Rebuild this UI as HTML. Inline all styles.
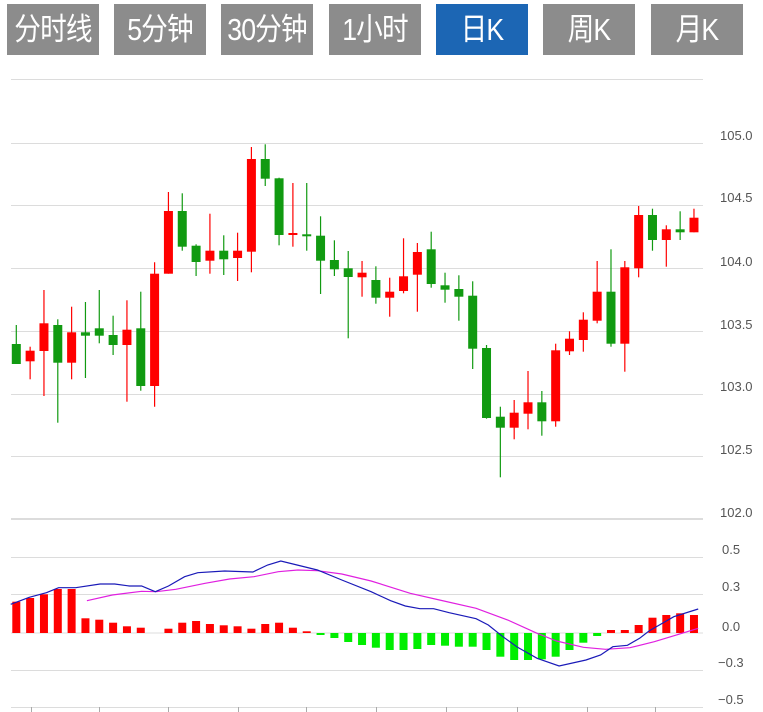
<!DOCTYPE html>
<html><head><meta charset="utf-8"><style>
html,body{margin:0;padding:0;background:#fff;width:763px;height:712px;overflow:hidden;font-family:"Liberation Sans","Noto Sans CJK SC",sans-serif}
.b{position:absolute;top:4px;width:92px;height:51px;background:#8c8c8c;color:#fff;overflow:hidden}
.b span{position:absolute;left:50%;top:0;line-height:51px;font-size:31px;white-space:nowrap;letter-spacing:-1px;transform:translateX(-50%) scaleX(0.86);font-family:"Liberation Sans","Noto Sans CJK SC",sans-serif}
.a{background:#1c66b4}
</style></head><body>
<div class="b" style="left:7px"><span>分时线</span></div>
<div class="b" style="left:114px"><span>5分钟</span></div>
<div class="b" style="left:221px"><span>30分钟</span></div>
<div class="b" style="left:329px"><span>1小时</span></div>
<div class="b a" style="left:436px"><span>日K</span></div>
<div class="b" style="left:543px"><span>周K</span></div>
<div class="b" style="left:651px"><span>月K</span></div>
<svg id="s" width="763" height="712" style="position:absolute;left:0;top:0" xmlns="http://www.w3.org/2000/svg">
<g stroke="#dcdcdc" stroke-width="1">
<line x1="11" x2="703" y1="79.5" y2="79.5"/>
<line x1="11" x2="703" y1="143.5" y2="143.5"/>
<line x1="11" x2="703" y1="205.5" y2="205.5"/>
<line x1="11" x2="703" y1="268.5" y2="268.5"/>
<line x1="11" x2="703" y1="331.5" y2="331.5"/>
<line x1="11" x2="703" y1="394.5" y2="394.5"/>
<line x1="11" x2="703" y1="456.5" y2="456.5"/>
<line x1="11" x2="703" y1="519" y2="519" stroke-width="2"/>
<line x1="11" x2="703" y1="557.5" y2="557.5"/>
<line x1="11" x2="703" y1="594.5" y2="594.5"/>
<line x1="11" x2="703" y1="633" y2="633"/>
<line x1="11" x2="703" y1="670.5" y2="670.5"/>
<line x1="11" x2="703" y1="707.5" y2="707.5"/>
</g>
<g stroke="#aaa" stroke-width="1">
<line x1="31.5" x2="31.5" y1="707" y2="712"/><line x1="99.5" x2="99.5" y1="707" y2="712"/><line x1="168.5" x2="168.5" y1="707" y2="712"/><line x1="238.5" x2="238.5" y1="707" y2="712"/><line x1="306.5" x2="306.5" y1="707" y2="712"/><line x1="376.5" x2="376.5" y1="707" y2="712"/><line x1="446.5" x2="446.5" y1="707" y2="712"/><line x1="517.5" x2="517.5" y1="707" y2="712"/><line x1="587.5" x2="587.5" y1="707" y2="712"/><line x1="655.5" x2="655.5" y1="707" y2="712"/>
</g>
<g font-size="13" fill="#555" font-family="Liberation Sans, sans-serif">
<text x="720" y="140">105.0</text><text x="720" y="202">104.5</text><text x="720" y="266">104.0</text><text x="720" y="329">103.5</text><text x="720" y="391">103.0</text><text x="720" y="454">102.5</text><text x="720" y="517">102.0</text>
<text x="722" y="554">0.5</text><text x="722" y="591">0.3</text><text x="722" y="631">0.0</text><text x="718" y="667">−0.3</text><text x="718" y="704">−0.5</text>
</g>
<g id="c"></g>
<g id="m"></g>
<polyline fill="none" stroke="#e020e0" stroke-width="1.2" points="86.9,600.7 112.3,595 141.6,591.3 156.3,591.7 175.8,589.3 205.1,583.3 229.5,579 253.9,576.7 278.3,571.7 297.9,570 317.4,570.7 341.8,574 371.1,581 410.2,593.3 439.5,600 476.1,608.3 507.8,620 537.1,633.3 556.6,641 583.5,647.3 605.5,649.3 629.9,647.7 654.3,641.7 678.7,634.3 698.2,628.3"/>
<polyline fill="none" stroke="#1a1ab8" stroke-width="1.2" points="10.7,604.3 29.3,597.3 46.4,592.7 58.6,587.7 75.7,587.7 100.1,584 114.7,584 129.4,586 141.6,586 155.3,591.7 168.5,586 184.6,576.7 197.8,572.7 224.6,571 252.9,572 267.6,565 280.8,561 293,564 317.4,570 341.8,580 371.1,591.7 390.6,600.7 405.3,606 419.9,608.7 433.6,608.7 449.2,612.7 476.1,618.7 488.3,625 502.9,636.7 517.6,647.3 537.1,658.3 559.1,666 586,660 600.6,655 612.8,646.7 627.4,645.3 639.6,638.3 649.4,630.7 673.8,616.7 698.2,609"/>
</svg>
<script>
var C=[[325,344,364,364,0],[346.7,350.7,361.3,379.3,1],[290,323.3,351,396,1],[319.3,325,362.7,422.7,0],[306.7,332.3,362.7,379.3,1],[302,332.3,335.7,378,0],[290,328.3,335.7,343.3,0],[315.7,335,345,355,0],[300.3,329.7,345,401.7,1],[291.7,328.3,386,390.7,0],[262.3,273.7,386,406.7,1],[192,211,273.7,273.7,1],[193.3,211,246.7,250.7,0],[244.3,245.7,262,276,0],[213.7,250.7,260.7,273.7,1],[235.3,250.7,259.3,275,0],[232.7,250.7,258,281,1],[147,159,251.7,272.3,1],[144.3,159,178.7,186,0],[177.7,178.3,235,245.3,0],[183,233,235,246.7,1],[183,234.3,236.3,250.7,0],[216.3,235.7,260.7,294,0],[240.3,260,269.3,276,0],[251,268.3,277,338.3,0],[261,272.7,277.3,296.7,1],[266.3,280,297.7,303.7,0],[277.7,291.7,297.7,316.7,1],[238.3,276.3,291,293.3,1],[243,252,274.7,311.7,1],[231.7,249.3,284,287.7,0],[272.7,285.3,289.7,302.7,0],[275.3,289,296.7,320.7,0],[281.3,295.7,348.7,369,0],[345,348,418,418.7,0],[406.7,416.7,427.7,477.3,0],[400,412.7,427.7,439.3,1],[371,402.3,413.7,429.3,1],[391,402.3,421.3,435.7,0],[343.7,350.3,421.3,426.7,1],[331.3,338.7,351.3,355,1],[312.3,319.7,340,351.7,1],[261,291.7,320.7,323.3,1],[249.3,291.7,343.7,346.7,0],[261,267.3,343.7,371.7,1],[206,215,268.3,277.3,1],[208.7,215,240,250.7,0],[225.3,229.3,240,266.7,1],[211.3,229.3,232.3,240,0],[208.7,217.7,232.3,232.3,1]];
var M=[601.7,598,594.3,589,589,618.3,619.7,622.7,626.3,627.7,633,628.7,622.7,621,624,625.3,626.3,628.7,624,622.7,627.7,631.3,635,638,642,645,647.7,650,650,649,645,645.7,646.7,646.7,650,656.7,660,660,659.3,656.7,650,642.7,636,630,630,625,617.7,615,613.3,615];
var s="",t="";
for(var i=0;i<50;i++){var x=16.3+13.83*i,c=C[i],col=c[4]?"#ff0000":"#119a11";
s+='<line x1="'+x+'" x2="'+x+'" y1="'+c[0]+'" y2="'+c[3]+'" stroke="'+col+'" stroke-width="1.2"/>';
var h=Math.max(c[2]-c[1],2);s+='<rect x="'+(x-4.5)+'" y="'+c[1]+'" width="9" height="'+h+'" fill="'+col+'"/>';
var v=M[i];if(v<633){t+='<rect x="'+(x-4)+'" y="'+v+'" width="8" height="'+(633-v)+'" fill="#ff0000"/>';}
else if(v>633){t+='<rect x="'+(x-4)+'" y="633" width="8" height="'+Math.max(v-633,1.5)+'" fill="#00ee00"/>';}}
document.getElementById("c").innerHTML=s;document.getElementById("m").innerHTML=t;
</script>
</body></html>
